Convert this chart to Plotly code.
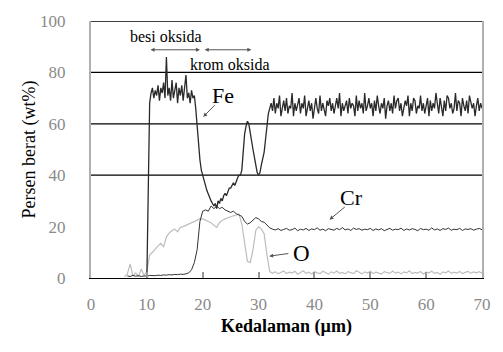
import plotly.graph_objects as go

# ---- data ----
fe_start, fe_step = 10.0, 0.25
fe_values = [
    0, 35, 68, 72,
    74, 70, 73, 71,
    75, 69, 74, 72,
    76, 70, 86, 71,
    74, 69, 77, 70,
    73, 76, 68, 74,
    71, 75, 69, 73,
    79, 70, 72, 68,
    73, 70, 71, 66,
    58, 50, 46, 42,
    40, 37, 35, 34,
    32.7, 31, 30, 29,
    28, 29, 27, 30,
    29, 31, 30, 32,
    33, 32, 34, 35,
    35, 36, 37, 36,
    38, 39, 40, 40,
    42, 50, 56, 59,
    61, 60, 56, 52,
    50, 47, 44, 41,
    40, 41, 44, 47,
    49, 54, 60, 64,
    66, 68, 65, 70,
    64, 68, 66, 71,
    63, 67, 69, 65,
    70, 64, 67, 66,
    72, 63, 68, 65,
    67, 70, 64, 68,
    66, 71, 63, 67,
    69, 65, 68, 62,
    67, 70, 66, 64,
    71, 65, 68, 66,
    63, 69, 67, 70,
    65, 68, 64, 67,
    70, 66, 72, 63,
    68, 65, 67, 69,
    64, 70, 66, 68,
    67, 63, 71, 65,
    69, 66, 68, 64,
    72, 65, 67, 70,
    66, 68, 63, 69,
    65, 71, 67, 64,
    68, 66, 70, 62,
    67, 69, 65, 68,
    64, 71, 66, 69,
    70, 65, 68, 63,
    66, 69, 67, 71,
    63, 68, 65, 70,
    69, 64, 67, 66,
    71, 65, 68, 64,
    67, 70, 63, 69,
    65, 68, 66, 72,
    68, 64, 70, 66,
    63, 69, 65, 71,
    70, 66, 68, 64,
    66, 72, 65, 69,
    68, 63, 70, 67,
    65, 69, 64, 71,
    69, 66, 68, 63,
    67, 70, 65, 68,
    66,
]

cr_start, cr_step = 6.5, 0.5
cr_values = [
    0.8, 0.6, 1.0, 0.7, 0.9, 0.6, 0.8, 0.7, 1.0, 0.8, 0.9, 1.1, 1.0, 1.2, 1.1,
    1.3, 1.2, 1.4, 1.3, 1.5, 1.4, 1.6, 2.0, 3.2, 6, 11, 22, 26, 26.5, 26, 28,
    27, 28, 27, 27.5, 26.5, 26, 25.5, 26, 25, 24.5, 24, 22, 21, 21.5, 22.5,
    23.5, 23, 22, 21.7, 20.5, 19.5, 19, 18.7,
    19.2, 18.5, 18.9, 19.3, 18.6, 18.8, 19.4, 18.4, 19.0, 18.7, 19.3, 18.5,
    19.1, 18.8, 19.5, 18.6, 19.0, 18.4, 19.2, 18.9, 18.6, 19.3, 18.8, 19.6,
    18.7, 19.1, 18.5, 19.4, 18.9, 19.2, 18.6, 19.0, 18.8, 19.3, 18.5, 19.1,
    18.7, 19.2, 18.4, 18.9, 19.3, 18.6, 19.0, 18.8, 19.4, 18.5, 19.1, 18.7,
    19.2, 18.9, 18.4, 19.3, 18.8, 19.0, 18.6, 19.5, 18.7, 19.1, 18.5, 19.2,
    18.9, 19.4, 18.6, 19.0, 18.8, 19.3, 18.5, 19.1, 18.9, 19.2, 18.6, 19.0,
    19.3, 18.8,
]

o_start, o_step = 6.0, 0.5
o_values = [
    0.5, 1.5, 5.5, 0.8, 2.0, 0.6, 3.5, 1.0, 2.5, 9, 10, 11.5, 12.5, 13.5, 12,
    16, 17.5, 18.5, 19, 18, 19.7, 20, 20.5, 21, 21.5, 22, 22.5, 23, 23, 22.5,
    22.3, 21.5, 20.5, 19.7, 21.5, 22.5, 23, 23.5, 24, 24.2, 24.5, 24.9, 21,
    13, 6.5, 6, 11, 18.5, 20, 19, 17.2, 9, 2.5,
    1.8, 2.4, 1.6, 2.2, 2.7, 1.7, 2.3, 1.9, 2.6, 1.5, 2.1, 2.8, 1.8, 2.3,
    1.6, 2.5, 2.0, 1.7, 2.6, 2.2, 1.5, 2.4, 1.9, 2.7, 1.8, 2.2, 1.6, 2.5,
    2.0, 1.7, 2.8, 2.1, 1.6, 2.4, 1.9, 2.6, 1.7, 2.3, 2.0, 1.5, 2.5, 2.2,
    1.8, 2.7, 1.9, 2.3, 1.6, 2.4, 2.0, 2.8, 1.7, 2.2, 1.9, 2.5, 1.6, 2.3,
    2.0, 2.6, 1.8, 2.2, 1.5, 2.4, 2.0, 2.7, 1.8, 2.3, 1.9, 2.5, 1.7, 2.2,
    2.6, 1.8, 2.4, 2.0, 2.5, 1.9,
]

x_ticks = [0, 10, 20, 30, 40, 50, 60, 70]
y_ticks = [0, 20, 40, 60, 80, 100]
grid_levels = [40, 60, 80, 100]

fe_depth = [round(fe_start + fe_step * i, 3) for i in range(len(fe_values))]
cr_depth = [round(cr_start + cr_step * i, 3) for i in range(len(cr_values))]
o_depth = [round(o_start + o_step * i, 3) for i in range(len(o_values))]

SERIF = "Liberation Serif"

fig = go.Figure()
fig.add_trace(go.Scatter(x=o_depth, y=o_values, mode="lines",
                         line=dict(color="#bdbdbd", width=1.2), name="O"))
fig.add_trace(go.Scatter(x=cr_depth, y=cr_values, mode="lines",
                         line=dict(color="#333333", width=1), name="Cr"))
fig.add_trace(go.Scatter(x=fe_depth, y=fe_values, mode="lines",
                         line=dict(color="#2a2a2a", width=1.3), name="Fe"))

for lv in grid_levels:
    fig.add_shape(type="line", xref="paper", yref="y", x0=0, x1=1, y0=lv, y1=lv,
                  line=dict(color="black", width=1.3), layer="below")

ann = []
def text(x, y, t, size):
    ann.append(dict(x=x, y=y, xref="x", yref="y", text=t, showarrow=False,
                    font=dict(family=SERIF, size=size, color="black")))

def arrow(x0, y0, x1, y1, side="end"):
    ann.append(dict(x=x1, y=y1, ax=x0, ay=y0, xref="x", yref="y", axref="x", ayref="y",
                    text="", showarrow=True, arrowhead=2, arrowsize=0.8, arrowwidth=1,
                    arrowcolor="#555555", arrowside=side, startarrowhead=2,
                    startarrowsize=0.8))

text(13.4, 93.8, "besi oksida", 16)
text(24.9, 83.0, "krom oksida", 16)
arrow(10.4, 88.8, 19.5, 88.8, "end+start")
arrow(20.1, 88.8, 28.7, 88.8, "end+start")
text(23.6, 71.2, "Fe", 22)
arrow(22.4, 67.8, 20.1, 62.7)
text(46.6, 31.5, "Cr", 22)
arrow(45.7, 28.1, 42.7, 22.7)
text(37.7, 9.6, "O", 23)
arrow(35.6, 9.6, 31.9, 8.5)

fig.update_layout(
    width=503, height=352,
    margin=dict(l=91, r=15, t=18, b=74),
    paper_bgcolor="white", plot_bgcolor="white",
    showlegend=False,
    annotations=ann,
    xaxis=dict(range=[0, 70], tickvals=x_ticks, showgrid=False, zeroline=False,
               showline=True, linecolor="black", linewidth=1.3,
               ticks="inside", ticklen=6, tickcolor="#999999", tickwidth=1.5,
               ticklabelstandoff=10,
               tickfont=dict(family=SERIF, size=17, color="#8a8a8a"),
               title=dict(text="<b>Kedalaman (µm)</b>", standoff=6,
                          font=dict(family=SERIF, size=18, color="black"))),
    yaxis=dict(range=[0, 100], tickvals=y_ticks, showgrid=False, zeroline=False,
               showline=True, linecolor="#b0b0b0", linewidth=2, mirror=True,
               ticks="", ticklabelstandoff=20,
               tickfont=dict(family=SERIF, size=17, color="#8a8a8a"),
               title=dict(text="Persen berat (wt%)", standoff=0,
                          font=dict(family=SERIF, size=18, color="black"))),
)

fig.write_html("out.html")
